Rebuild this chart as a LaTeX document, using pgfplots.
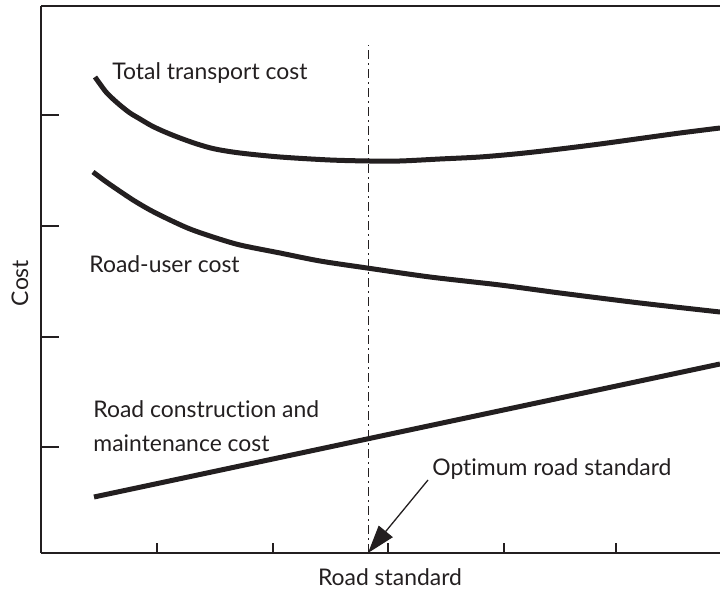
\documentclass[border=0pt]{standalone}
\usepackage{pgfplots}
\pgfplotsset{compat=1.18}
\usepackage{fontspec}
\setmainfont[Ligatures=NoCommon]{Lato}
\usetikzlibrary{arrows.meta}
\definecolor{ink}{HTML}{231F20}

% data in reference pixels: x = px - 41, y = 553 - py
\pgfplotstableread{
x y
54 476
59 469
65 461
72 454
80 447
89 440
99 434
111 427
124 421
139 415
156 409
174 404
199 400
239 396
289 393
328 392
359 392
399 394
439 396
479 399.5
519 404
559 409
599 414.5
639 420
679 425
}\totalcost
\pgfplotstableread{
x y
52 381
64 372
77 363
92 353
109 343
129 333
149 324
172 316
199 308
239 300
279 292
326 285
389 276
459 268
519 260
599 250
679 241
}\usercost
\pgfplotstableread{
x y
53 56
679 189
}\buildcost

\begin{document}
\begin{tikzpicture}[font=\fontsize{11.5}{13}\selectfont, color=ink]
\useasboundingbox (-20.5bp,-20bp) rectangle (339.5bp,276.5bp);
\begin{axis}[
  scale only axis, width=339.5bp, height=273.5bp,
  xmin=0, xmax=679, ymin=0, ymax=547,
  axis x line*=box, axis y line*=left,
  axis line style={ink, line width=0.7bp},
  xtick={116,232,347,463,575}, ytick={106,216,327,438},
  xticklabels={}, yticklabels={},
  tick align=inside, xtick pos=bottom,
  x tick style={ink, line width=0.7bp, /pgfplots/major tick length=5bp},
  y tick style={ink, line width=0.7bp, /pgfplots/major tick length=9bp},
  clip=false,
]
\addplot[ink, line width=2.5bp, smooth, tension=0.5] table {\totalcost};
\addplot[ink, line width=2.5bp, smooth, tension=0.5] table {\usercost};
\addplot[ink, line width=2.5bp] table {\buildcost};
\draw[ink, line width=0.5bp, dash pattern=on 4.5bp off 2bp on 1bp off 2bp] (axis cs:327,0) -- (axis cs:327,508);
\draw[ink, line width=0.65bp, -{Triangle[length=14bp,width=9bp]}] (axis cs:387,73) -- (axis cs:327,0);
\node[anchor=base west, inner sep=0] at (axis cs:71,473) {Total transport cost};
\node[anchor=base west, inner sep=0] at (axis cs:48,280) {Road-user cost};
\node[anchor=base west, inner sep=0] at (axis cs:52,135) {Road construction and};
\node[anchor=base west, inner sep=0] at (axis cs:52,101) {maintenance cost};
\node[anchor=base west, inner sep=0] at (axis cs:391,77) {Optimum road standard};
\node[anchor=base, inner sep=0] at (axis cs:349,-32) {Road standard};
\node[rotate=90, inner sep=0] at (axis cs:-21,270) {Cost};
\end{axis}
\end{tikzpicture}
\end{document}
